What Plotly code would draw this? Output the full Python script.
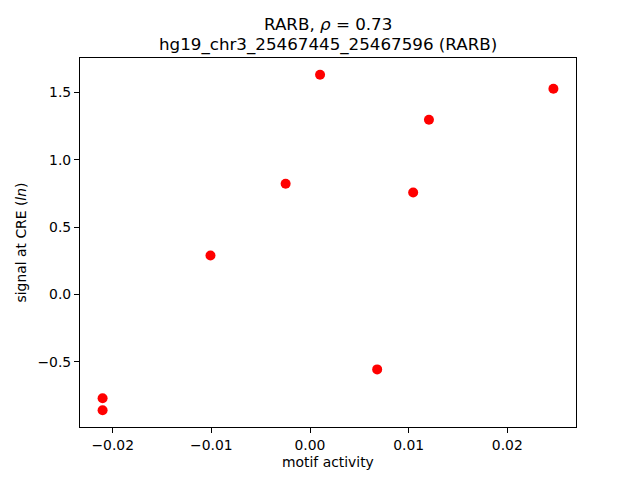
import plotly.graph_objects as go

motif_activity = [-0.02103, -0.02103, -0.01009, -0.00247, 0.00102, 0.00681, 0.01046, 0.01206, 0.02468]
signal_cre = [-0.770, -0.859, 0.289, 0.822, 1.630, -0.556, 0.756, 1.296, 1.526]

title_line1 = "RARB, <i>ρ</i> = 0.73"
title_line2 = "hg19_chr3_25467445_25467596 (RARB)"
x_label = "motif activity"
y_label = "signal at CRE (<i>ln</i>)"

font_family = "DejaVu Sans, Arial, sans-serif"

fig = go.Figure()
fig.add_trace(go.Scatter(
    x=motif_activity, y=signal_cre, mode="markers",
    marker=dict(color="red", size=10, line=dict(width=0)),
    showlegend=False,
))

axis_common = dict(
    showline=True, linecolor="black", linewidth=1.1, mirror=True,
    ticks="outside", ticklen=5, tickwidth=1.1, tickcolor="black",
    showgrid=False, zeroline=False,
    tickfont=dict(family=font_family, size=13.9, color="black"),
)

# page body has an 8px default margin, compensated here
fig.update_layout(
    width=640, height=480,
    margin=dict(l=72, r=72, t=49.6, b=60.8, pad=0),
    paper_bgcolor="white", plot_bgcolor="white",
    font=dict(family=font_family, color="black"),
    xaxis=dict(range=[-0.02332, 0.02697], tickvals=[-0.02, -0.01, 0.0, 0.01, 0.02],
               tickformat=".2f", **axis_common),
    yaxis=dict(range=[-0.9835, 1.7545], tickvals=[-0.5, 0.0, 0.5, 1.0, 1.5],
               tickformat=".1f", **axis_common),
    annotations=[
        dict(text=title_line1, x=0.5, y=1.0909, xref="paper", yref="paper",
             xanchor="center", yanchor="middle", showarrow=False,
             font=dict(family=font_family, size=16.7, color="black")),
        dict(text=title_line2, x=0.5, y=1.0368, xref="paper", yref="paper",
             xanchor="center", yanchor="middle", showarrow=False,
             font=dict(family=font_family, size=16.7, color="black")),
        dict(text=x_label, x=0.5, y=-0.094, xref="paper", yref="paper",
             xanchor="center", yanchor="middle", showarrow=False,
             font=dict(family=font_family, size=13.9, color="black")),
        dict(text=y_label, x=-0.119, y=0.5, xref="paper", yref="paper",
             xanchor="center", yanchor="middle", showarrow=False, textangle=-90,
             font=dict(family=font_family, size=13.9, color="black")),
    ],
)

fig.write_html("out.html")
